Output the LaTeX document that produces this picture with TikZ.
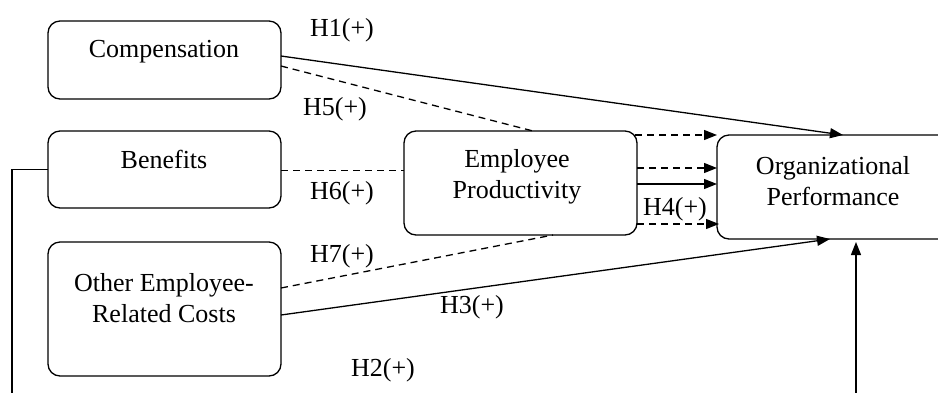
\documentclass[tikz,border=0pt]{standalone}
\usepackage{fontspec}
\setmainfont{Liberation Serif}
\usetikzlibrary{arrows.meta,calc}

\tikzset{
  box/.style={draw, rounded corners=12pt, line width=1.3pt, anchor=north west, inner sep=0pt, outer sep=0pt},
  boxtext/.style={align=center, font=\fontsize{26}{31}\selectfont, inner sep=0pt},
  hyp/.style={font=\fontsize{26}{31}\selectfont, inner sep=0pt, anchor=base},
  link/.style={line width=1.3pt},
  linkdash/.style={line width=1.3pt, dash pattern=on 7pt off 5pt},
  tip/.style={-{Triangle[length=13pt,width=10pt]}}
}

\begin{document}
\begin{tikzpicture}[x=1pt,y=-1pt]
		%%%%% START %%%%%
		\clip (0,0) rectangle (938,392);
		
		% boxes
		\node[box, minimum width=233pt, minimum height=78pt] (comp) at (48,21) {};
		\node[box, minimum width=233pt, minimum height=77pt] (ben) at (48,131) {};
		\node[box, minimum width=233pt, minimum height=134pt] (other) at (48,242) {};
		\node[box, minimum width=233pt, minimum height=104pt] (ep) at (404,131) {};
		\node[box, minimum width=260pt, minimum height=104pt] (op) at (717,135) {};
		
		% box texts
		\node[boxtext, anchor=base] (comptext) at (164,57) {Compensation};
		\node[boxtext, anchor=base] (bentext) at (164,168) {Benefits};
		\node[boxtext] (othertext) at (164,298) {Other Employee-\\Related Costs};
		\node[boxtext] (eptext) at (517,177) {Employee\\Productivity};
		\node[boxtext] (optext) at (833,181) {Organizational\\Performance};
		
		% hypotheses
		\node[hyp] (h1) at (342,36) {H1(+)};
		\node[hyp] (h5) at (335,115) {H5(+)};
		\node[hyp] (h6) at (342,199) {H6(+)};
		\node[hyp] (h7) at (342,262) {H7(+)};
		\node[hyp] (h3) at (472,313) {H3(+)};
		\node[hyp] (h2) at (383,376) {H2(+)};
		\node[hyp] (h4) at (675,215) {H4(+)};
		
		% direct paths
		\draw[link, tip] ([yshift=4pt]comp.east) -- ([xshift=126pt]op.north west);
		\draw[link, tip] ([yshift=-6pt]other.east) -- ([xshift=113pt]op.south west);
		\draw[link, tip, shorten >=3pt] (ben.west) -- ++(-36,0) -- ++(0,260) -| ([xshift=139pt]op.south west);
		
		% paths through productivity
		\draw[linkdash] ([yshift=-6pt]comp.east) -- ([xshift=129pt]ep.north west);
		\draw[linkdash] ([yshift=-1pt]ben.east) -- ([yshift=-1pt]ben.east -| ep.west);
		\draw[linkdash] ([yshift=21pt]other.east) -- ([xshift=149pt]ep.south west);
		
		% productivity to performance
		\draw[linkdash, tip] ([yshift=-4pt, xshift=-2pt]ep.north east) -- ([yshift=-4pt]ep.north east -| op.west);
		\draw[linkdash, tip] ([yshift=-37pt]ep.north east) -- ([yshift=-37pt]ep.north east -| op.west);
		\draw[link, tip] ([yshift=-53pt]ep.north east) -- ([yshift=-53pt]ep.north east -| op.west);
		\draw[linkdash, tip] ([yshift=-93pt]ep.north east) -- ([yshift=-93pt, xshift=2pt]ep.north east -| op.west);
		
		%%%%% END %%%%%
\end{tikzpicture}
\end{document}
